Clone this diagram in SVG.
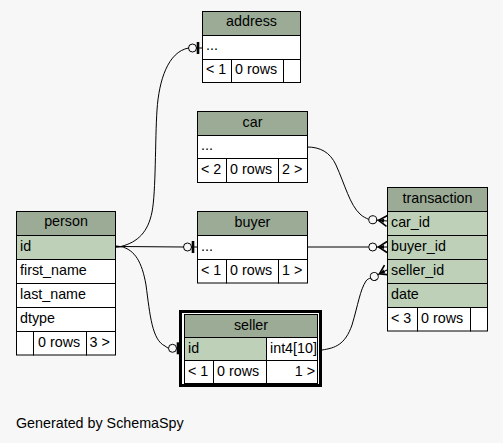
<svg xmlns="http://www.w3.org/2000/svg" width="503" height="443" viewBox="0 0 503 443">
<style>
text{font-family:"Liberation Sans",Arial,Helvetica,sans-serif;font-size:14.3px;fill:#000}
.c{text-anchor:middle}
.e{text-anchor:end}
.h{fill:#9bab96;stroke:#000;stroke-width:1}
.k{fill:#bed1b8;stroke:#000;stroke-width:1}
.w{fill:#fff;stroke:#000;stroke-width:1}
.ln{fill:none;stroke:#000;stroke-width:1}
</style>
<defs>
<g id="teeOdot">
<line class="ln" x1="-5.5" y1="0" x2="0" y2="0"/>
<circle class="ln" cx="-9.5" cy="0" r="4"/>
<line x1="-4" y1="-6" x2="-4" y2="6" stroke="#000" stroke-width="2.6"/>
</g>
<g id="crowOdot">
<circle class="ln" cx="-14.3" cy="0" r="4"/>
<line class="ln" x1="-10.3" y1="0" x2="0" y2="0"/>
<polyline points="0,-5.5 -8.5,0 0,5.5" fill="none" stroke="#000" stroke-width="1.6" stroke-linejoin="miter"/>
<polygon points="-8.5,0 -3,-2 -3,2" fill="#000"/>
</g>
</defs>
<rect x="0" y="0" width="503" height="443" fill="#f7f7f7"/>

<g id="connectors">
<path class="ln" d="M121,246.5 C138,242 148,232 152,212 C156,192 155,140 157,110 C159,80 168,52 188.5,48"/>
<use href="#teeOdot" transform="translate(202,48)"/>
<path class="ln" d="M121,246.5 L183.5,247"/>
<use href="#teeOdot" transform="translate(197,247)"/>
<path class="ln" d="M121,246.5 C135,250 142,262 146,285 C150,315 152,340 165,346 C166.5,347 167.5,348 168.5,348.3"/>
<use href="#teeOdot" transform="translate(182,348.3)"/>
<polygon points="116,245.5 122,246.2 122,247.2 116,247.8" fill="#000"/>
<path class="ln" d="M307,147 C320,147 330,152 336,165 C345,185 350,205 360,214 C363,217 366,218 368.5,219.3"/>
<use href="#crowOdot" transform="translate(387,221) rotate(5)"/>
<path class="ln" d="M307.5,247 L368.4,247"/>
<use href="#crowOdot" transform="translate(387,247)"/>
<path class="ln" d="M322,350 C335,348 345,345 352,325 C358,305 360,290 366,281 C367.5,279 369,278.5 370.6,278.3"/>
<use href="#crowOdot" transform="translate(387,270) rotate(-27)"/>
</g>

<g id="address">
<rect class="h" x="202.5" y="11.5" width="98" height="24"/>
<text class="c" x="251.5" y="26">address</text>
<rect class="w" x="202.5" y="35.5" width="98" height="24"/>
<text x="206" y="50">...</text>
<rect class="w" x="202.5" y="59.5" width="29" height="23"/>
<rect class="w" x="231.5" y="59.5" width="52" height="23"/>
<rect class="w" x="283.5" y="59.5" width="17" height="23"/>
<text x="206" y="74">&lt; 1</text>
<text x="235" y="74">0 rows</text>
</g>

<g id="car">
<rect class="h" x="197.5" y="111.5" width="110" height="24"/>
<text class="c" x="252.5" y="126.5">car</text>
<rect class="w" x="197.5" y="135.5" width="110" height="23"/>
<text x="201" y="150">...</text>
<rect class="w" x="197.5" y="158.5" width="29" height="24"/>
<rect class="w" x="226.5" y="158.5" width="52" height="24"/>
<rect class="w" x="278.5" y="158.5" width="29" height="24"/>
<text x="201" y="174">&lt; 2</text>
<text x="230" y="174">0 rows</text>
<text x="282" y="174">2 &gt;</text>
</g>

<g id="buyer">
<rect class="h" x="197.5" y="211.5" width="110" height="24"/>
<text class="c" x="252.5" y="226.5">buyer</text>
<rect class="w" x="197.5" y="235.5" width="110" height="24"/>
<text x="201" y="250.5">...</text>
<rect class="w" x="197.5" y="259.5" width="29" height="23.5"/>
<rect class="w" x="226.5" y="259.5" width="52" height="23.5"/>
<rect class="w" x="278.5" y="259.5" width="29" height="23.5"/>
<text x="201" y="274.5">&lt; 1</text>
<text x="230" y="274.5">0 rows</text>
<text x="282" y="274.5">1 &gt;</text>
</g>

<g id="person">
<rect class="h" x="16.5" y="211.5" width="99" height="24"/>
<text class="c" x="66" y="226">person</text>
<rect class="k" x="16.5" y="235.5" width="99" height="24"/>
<text x="20" y="250.5">id</text>
<rect class="w" x="16.5" y="259.5" width="99" height="24"/>
<text x="20" y="274.5">first_name</text>
<rect class="w" x="16.5" y="283.5" width="99" height="24"/>
<text x="20" y="298.5">last_name</text>
<rect class="w" x="16.5" y="307.5" width="99" height="24"/>
<text x="20" y="322.5">dtype</text>
<rect class="w" x="16.5" y="331.5" width="17" height="23.5"/>
<rect class="w" x="33.5" y="331.5" width="53" height="23.5"/>
<rect class="w" x="86.5" y="331.5" width="29" height="23.5"/>
<text x="38" y="346.5">0 rows</text>
<text x="89.5" y="346.5">3 &gt;</text>
</g>

<g id="seller">
<rect x="180.5" y="311.5" width="140" height="74" fill="#fff" stroke="#000" stroke-width="3"/>
<rect class="h" x="184.5" y="314.5" width="133" height="23"/>
<text class="c" x="251" y="330">seller</text>
<rect class="k" x="184.5" y="337.5" width="82" height="23"/>
<text x="188" y="353">id</text>
<rect class="w" x="266.5" y="337.5" width="51" height="23"/>
<text x="270" y="353">int4[10]</text>
<rect class="w" x="184.5" y="360.5" width="29" height="23"/>
<rect class="w" x="213.5" y="360.5" width="53" height="23"/>
<rect class="w" x="266.5" y="360.5" width="51" height="23"/>
<text x="188" y="376">&lt; 1</text>
<text x="217" y="376">0 rows</text>
<text class="e" x="315" y="376">1 &gt;</text>
</g>

<g id="transaction">
<rect class="h" x="387.5" y="187.5" width="100" height="24"/>
<text class="c" x="437.5" y="202.5">transaction</text>
<rect class="k" x="387.5" y="211.5" width="100" height="24"/>
<text x="391" y="226.5">car_id</text>
<rect class="k" x="387.5" y="235.5" width="100" height="24"/>
<text x="391" y="250.5">buyer_id</text>
<rect class="k" x="387.5" y="259.5" width="100" height="24"/>
<text x="391" y="274.5">seller_id</text>
<rect class="k" x="387.5" y="283.5" width="100" height="24"/>
<text x="391" y="298.5">date</text>
<rect class="w" x="387.5" y="307.5" width="30" height="23.5"/>
<rect class="w" x="417.5" y="307.5" width="53" height="23.5"/>
<rect class="w" x="470.5" y="307.5" width="17" height="23.5"/>
<text x="391" y="322.5">&lt; 3</text>
<text x="421" y="322.5">0 rows</text>
</g>

<text x="16" y="428">Generated by SchemaSpy</text>
</svg>
